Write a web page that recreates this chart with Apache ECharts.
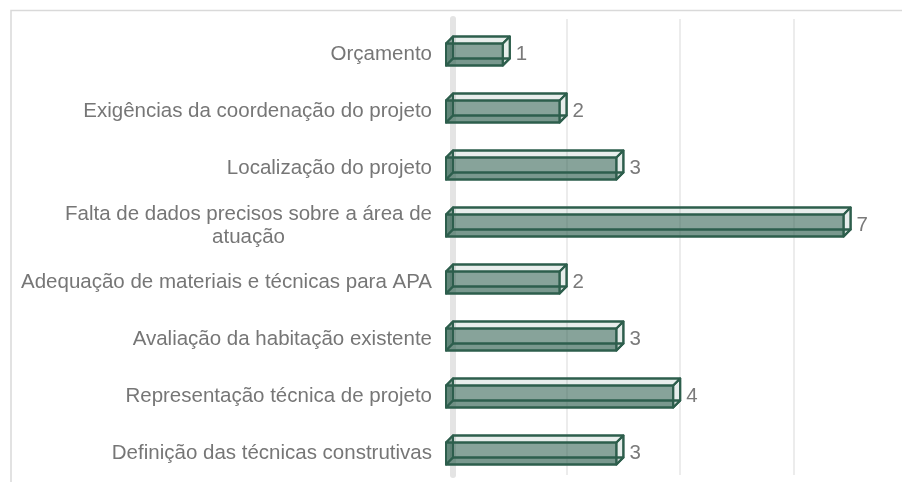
<!DOCTYPE html>
<html>
<head>
<meta charset="utf-8">
<script src="https://cdn.jsdelivr.net/npm/echarts@6/dist/echarts.min.js"></script>
<style>
  html, body { margin: 0; padding: 0; background: #fff; }
  #chart { width: 902px; height: 482px; }
</style>
</head>
<body>
<div id="chart"></div>
<script>
// categories top to bottom
const categories = [
  'Orçamento',
  'Exigências da coordenação do projeto',
  'Localização do projeto',
  'Falta de dados precisos sobre a área de\natuação',
  'Adequação de materiais e técnicas para APA',
  'Avaliação da habitação existente',
  'Representação técnica de projeto',
  'Definição das técnicas construtivas'
];
const counts = [1, 2, 3, 7, 2, 3, 4, 3];

const DX = 7;   // depth offset x
const DY = 7;   // depth offset y
const BAR_H = 22;
const EDGE = '#2d5e4c';
const FONT = 'Liberation Sans';
const LABEL_SIZE = 20.5;

const chart = echarts.init(document.getElementById('chart'));

function renderItem(params, api) {
  const v = api.value(0);
  const cat = api.value(1);
  const p0 = api.coord([0, cat]);
  const p1 = api.coord([v, cat]);
  const x0 = p0[0] - DX, x1 = p1[0] - DX, yc = p0[1] + DY;
  const yt = yc - BAR_H / 2, yb = yc + BAR_H / 2;
  const line = { stroke: EDGE, lineWidth: 2, lineJoin: 'round' };
  const poly = (pts, fill) => ({
    type: 'polygon',
    shape: { points: pts },
    style: Object.assign({ fill: fill }, line)
  });
  return {
    type: 'group',
    children: [
      poly([[x0 + DX, yt - DY], [x1 + DX, yt - DY], [x1 + DX, yb - DY], [x0 + DX, yb - DY]], 'rgba(46,94,78,0.06)'),
      poly([[x0, yb], [x1, yb], [x1 + DX, yb - DY], [x0 + DX, yb - DY]], 'rgba(46,94,78,0.2)'),
      poly([[x0, yt], [x0 + DX, yt - DY], [x0 + DX, yb - DY], [x0, yb]], 'rgba(46,94,78,0.45)'),
      poly([[x0, yt], [x1, yt], [x1 + DX, yt - DY], [x0 + DX, yt - DY]], 'rgba(46,94,78,0.05)'),
      poly([[x1, yt], [x1 + DX, yt - DY], [x1 + DX, yb - DY], [x1, yb]], 'rgba(46,94,78,0.06)'),
      poly([[x0, yt], [x1, yt], [x1, yb], [x0, yb]], 'rgba(46,94,78,0.55)'),
      {
        type: 'text',
        style: {
          text: String(v),
          x: x1 + DX + 6,
          y: yc,
          verticalAlign: 'middle',
          fill: '#7a7a7a',
          font: LABEL_SIZE + 'px "' + FONT + '"'
        }
      }
    ]
  };
}

const option = {
  animation: false,
  graphic: [
    {
      type: 'polyline',
      shape: { points: [[11, 490], [11, 10.5], [910, 10.5]] },
      style: { stroke: '#d9d9d9', lineWidth: 1.5, fill: null }
    }
  ],
  grid: { left: 453, top: 19, width: 426, height: 456 },
  xAxis: {
    type: 'value',
    min: 0,
    max: 7.5,
    interval: 2,
    axisLabel: { show: false },
    axisLine: { show: false },
    axisTick: { show: false },
    splitLine: {
      show: true,
      showMinLine: false,
      showMaxLine: false,
      lineStyle: { color: '#e6e6e6', width: 1.5 }
    }
  },
  yAxis: {
    type: 'category',
    data: categories,
    inverse: true,
    axisTick: { show: false },
    axisLine: { show: true, lineStyle: { color: '#e4e4e4', width: 6 } },
    axisLabel: {
      margin: 21,
      padding: [14, 0, 0, 0],
      color: '#767676',
      fontFamily: FONT,
      fontSize: LABEL_SIZE,
      lineHeight: 23,
      formatter: function (val) {
        if (val.indexOf('\n') >= 0) {
          const parts = val.split('\n');
          return '{a|' + parts[0] + '}\n{a|' + parts[1] + '}';
        }
        return val;
      },
      rich: {
        a: { color: '#767676', fontFamily: FONT, fontSize: LABEL_SIZE, lineHeight: 23, align: 'center' }
      }
    }
  },
  series: [{
    type: 'custom',
    renderItem: renderItem,
    encode: { x: 0, y: 1 },
    data: counts.map((c, i) => [c, i])
  }]
};

chart.setOption(option);
</script>
</body>
</html>
